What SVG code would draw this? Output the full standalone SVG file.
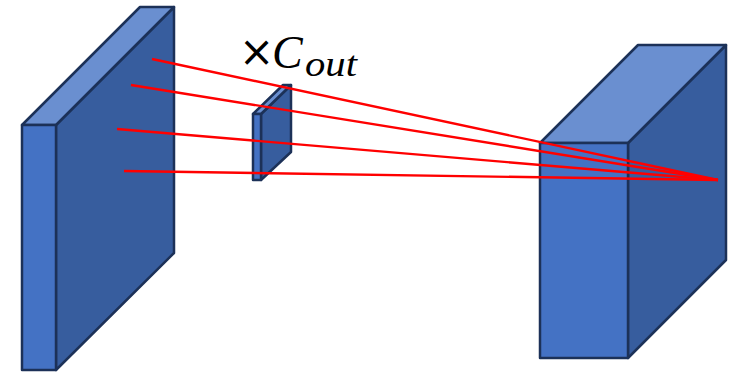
<svg xmlns="http://www.w3.org/2000/svg" width="734" height="372" viewBox="0 0 734 372">
<style>
.front{fill:#4472C4;stroke:#1C3158;stroke-width:2.5;stroke-linejoin:round}
.side{fill:#375D9E;stroke:#1C3158;stroke-width:2.5;stroke-linejoin:round}
.top{fill:#6A8FD0;stroke:#1C3158;stroke-width:2.5;stroke-linejoin:round}
.ray{stroke:#FF0000;stroke-width:2.4;fill:none}
.lbl{font-family:"Liberation Serif","DejaVu Serif",serif;fill:#000}
</style>
<rect width="734" height="372" fill="#fff"/>
<g id="input-block">
<polygon class="side" points="56,125 174,7 174,253 56,370"/>
<polygon class="top" points="22,125 140,7 174,7 56,125"/>
<rect class="front" x="22" y="125" width="34" height="245"/>
</g>
<g id="kernel">
<polygon class="side" points="261,114 291,85 291,152 261,180"/>
<polygon class="top" points="253,114 283,85 291,85 261,114"/>
<rect class="front" x="253" y="114" width="8" height="66"/>
</g>
<g id="output-block">
<polygon class="side" points="628,143 726,45 726,260 628,358"/>
<polygon class="top" points="540,143 638,45 726,45 628,143"/>
<rect class="front" x="540" y="143" width="88" height="215"/>
</g>
<g id="connectors">
<line class="ray" x1="152" y1="59" x2="718" y2="180"/>
<line class="ray" x1="131" y1="85" x2="718" y2="180"/>
<line class="ray" x1="117" y1="129" x2="718" y2="180"/>
<line class="ray" x1="124" y1="171" x2="718" y2="180"/>
</g>
<g id="label">
<text x="239" y="66" font-size="42" style="font-family:'DejaVu Sans',sans-serif">×</text>
<text class="lbl" x="272" y="68" font-size="46" font-style="italic">C</text>
<text class="lbl" x="305" y="76" font-size="36" font-style="italic" textLength="52" lengthAdjust="spacingAndGlyphs">out</text>
</g>
</svg>
